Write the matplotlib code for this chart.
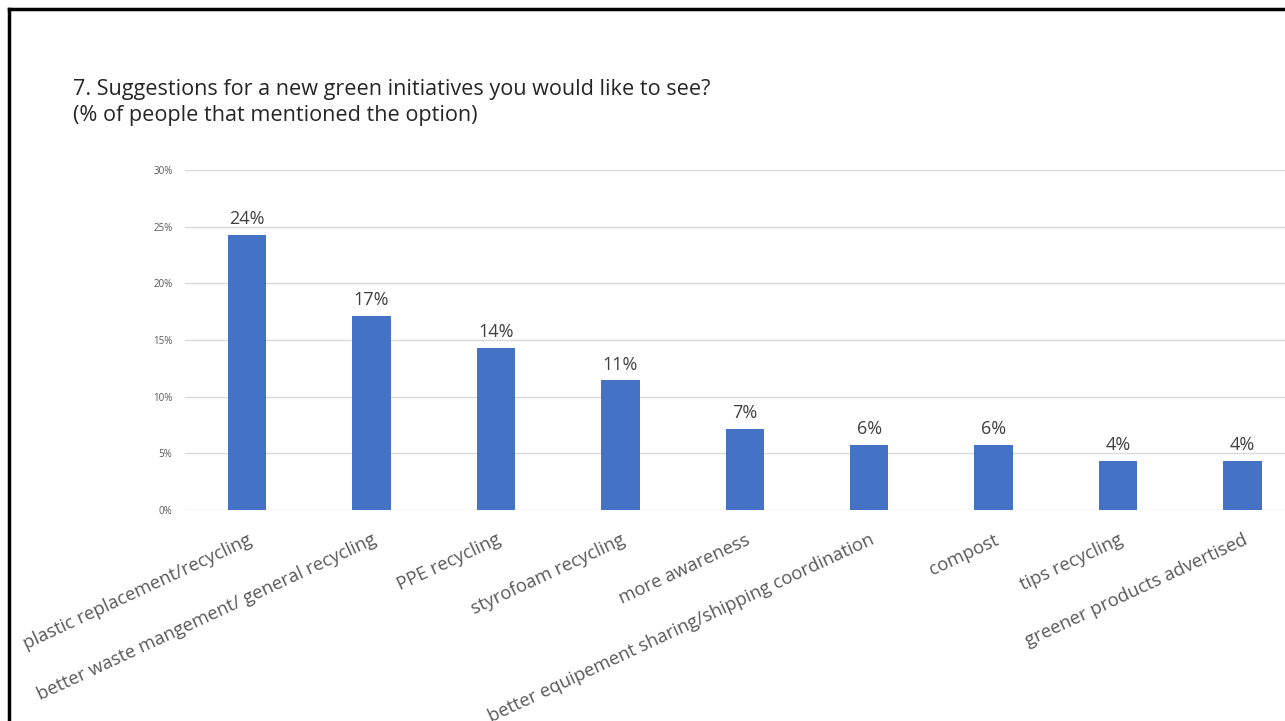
import matplotlib.pyplot as plt
from matplotlib.lines import Line2D

categories = [
    "plastic replacement/recycling",
    "better waste mangement/ general recycling",
    "PPE recycling",
    "styrofoam recycling",
    "more awareness",
    "better equipement sharing/shipping coordination",
    "compost",
    "tips recycling",
    "greener products advertised",
]
# share of respondents (out of 70) mentioning each option
shares = [17 / 70, 12 / 70, 10 / 70, 8 / 70, 5 / 70, 4 / 70, 4 / 70, 3 / 70, 3 / 70]
yticks = [0, 0.05, 0.10, 0.15, 0.20, 0.25, 0.30]

plt.rcParams['font.family'] = ['Open Sans', 'DejaVu Sans']

W, H = 1285, 721
fig = plt.figure(figsize=(W / 100, H / 100), dpi=100)

# slide frame (top and left edges)
fig.add_artist(Line2D([9 / W, 9 / W], [0, 1 - 9 / H], transform=fig.transFigure,
                      color='black', lw=2.5))
fig.add_artist(Line2D([9 / W, 1], [1 - 9 / H, 1 - 9 / H], transform=fig.transFigure,
                      color='black', lw=2.5))

fig.text(73 / W, 1 - 89 / H, "7. Suggestions for a new green initiatives you would like to see?",
         fontsize=15.6, color='#262626', va='center', ha='left')
fig.text(73 / W, 1 - 116 / H, "(% of people that mentioned the option)",
         fontsize=15.6, color='#262626', va='center', ha='left')

spacing = 124.4
ax = fig.add_axes([185 / W, 1 - 510 / H, 9 * spacing / W, 340 / H])
x = list(range(len(categories)))
bars = ax.bar(x, shares, width=0.31, color='#4472C4', zorder=3)

ax.set_xlim(-0.5, len(categories) - 0.5)
ax.set_ylim(0, 0.30)
ax.set_yticks(yticks)
ax.set_yticklabels([f"{int(round(t * 100))}%" for t in yticks], fontsize=7, color='#595959')
ax.tick_params(axis='y', length=0, pad=9)
ax.grid(axis='y', color='#d9d9d9', lw=1, zorder=0)
for s in ax.spines.values():
    s.set_visible(False)

ax.set_xticks(x)
ax.set_xticklabels(categories, rotation=25, ha='right', va='top',
                   rotation_mode='anchor', fontsize=13.2, color='#595959')
ax.tick_params(axis='x', length=0, pad=15)

for b, v in zip(bars, shares):
    ax.annotate(f"{round(v * 100):.0f}%", (b.get_x() + b.get_width() / 2, v),
                xytext=(0, 5), textcoords='offset points', ha='center', va='bottom',
                fontsize=13, color='#404040')

fig.savefig('out.png', dpi=100)
